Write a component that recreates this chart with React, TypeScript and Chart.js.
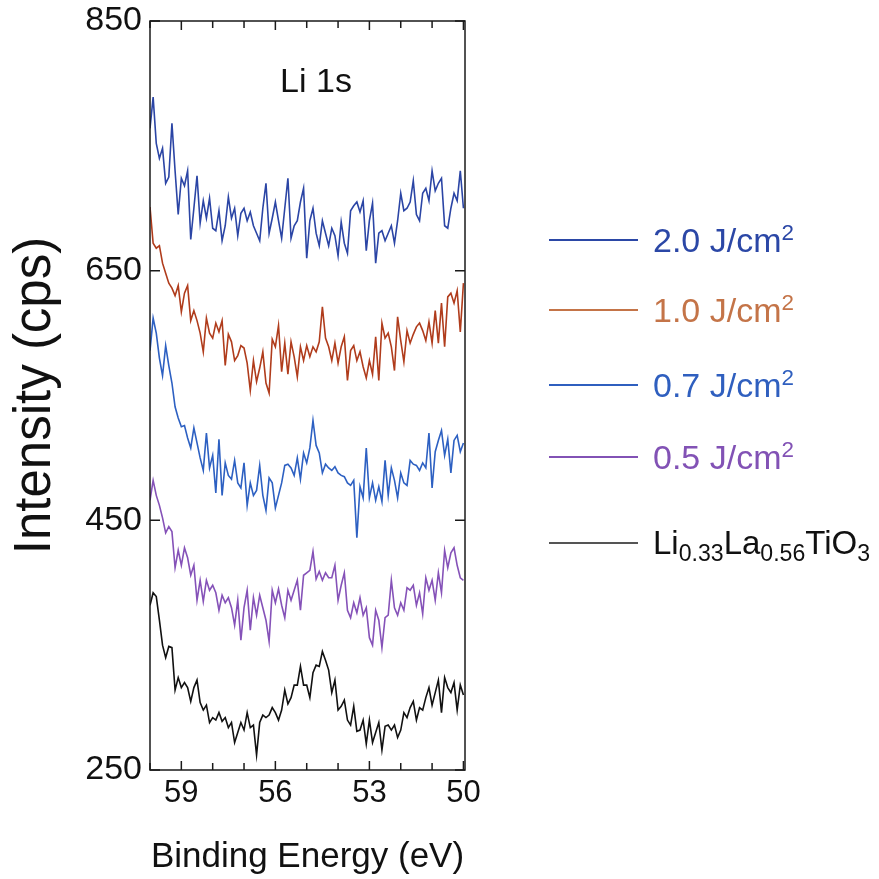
import React, { useEffect, useRef } from "react";
import { Chart, registerables } from "chart.js";

Chart.register(...registerables);

// Binding energy grid (eV)
const energy = [
  60.0, 59.9, 59.8, 59.7, 59.6, 59.5, 59.4, 59.3, 59.2, 59.1,
  59.0, 58.9, 58.8, 58.7, 58.6, 58.5, 58.4, 58.3, 58.2, 58.1,
  58.0, 57.9, 57.8, 57.7, 57.6, 57.5, 57.4, 57.3, 57.2, 57.1,
  57.0, 56.9, 56.8, 56.7, 56.6, 56.5, 56.4, 56.3, 56.2, 56.1,
  56.0, 55.9, 55.8, 55.7, 55.6, 55.5, 55.4, 55.3, 55.2, 55.1,
  55.0, 54.9, 54.8, 54.7, 54.6, 54.5, 54.4, 54.3, 54.2, 54.1,
  54.0, 53.9, 53.8, 53.7, 53.6, 53.5, 53.4, 53.3, 53.2, 53.1,
  53.0, 52.9, 52.8, 52.7, 52.6, 52.5, 52.4, 52.3, 52.2, 52.1,
  52.0, 51.9, 51.8, 51.7, 51.6, 51.5, 51.4, 51.3, 51.2, 51.1,
  51.0, 50.9, 50.8, 50.7, 50.6, 50.5, 50.4, 50.3, 50.2, 50.1,
  50.0,
];

// 2.0 J/cm2
const fluence20 = [
  764, 789, 752, 740, 748, 720, 725, 768, 730, 695,
  724, 718, 730, 675, 700, 726, 688, 706, 692, 708,
  684, 682, 698, 674, 686, 709, 692, 700, 678, 696,
  700, 690, 697, 686, 680, 674, 700, 720, 680, 692,
  705, 690, 676, 700, 724, 676, 686, 690, 705, 716,
  660, 690, 700, 680, 670, 690, 680, 670, 684, 678,
  662, 689, 672, 664, 698, 702, 705, 697, 706, 666,
  690, 704, 656, 680, 682, 674, 680, 686, 672, 690,
  712, 698, 700, 705, 722, 695, 690, 712, 716, 706,
  730, 714, 720, 724, 686, 684, 700, 712, 706, 730,
  700,
];

// 1.0 J/cm2
const fluence10 = [
  701, 672, 668, 670, 656, 648, 640, 636, 630, 638,
  617, 632, 638, 610, 618, 610, 600, 585, 612, 600,
  596, 608, 601, 610, 574, 599, 593, 578, 582, 590,
  588, 576, 554, 578, 561, 572, 585, 560, 552, 595,
  589, 606, 569, 592, 567, 593, 581, 565, 589, 578,
  590, 581, 589, 585, 593, 621, 596, 589, 578, 592,
  576, 589, 597, 562, 586, 590, 578, 585, 573, 564,
  578, 567, 597, 562, 608, 596, 600, 589, 570, 613,
  594, 577, 602, 592, 599, 605, 608, 602, 594, 609,
  592, 618, 592, 624, 589, 629, 632, 624, 634, 601,
  640,
];

// 0.7 J/cm2
const fluence07 = [
  586, 612, 600, 580, 566, 590, 574, 560, 541, 532,
  525, 526, 516, 508, 524, 512, 500, 490, 520, 492,
  502, 472, 515, 470, 496, 486, 483, 498, 480, 476,
  496, 462, 480, 470, 474, 494, 470, 458, 484, 480,
  460, 470, 480, 494, 495, 492, 486, 500, 483, 504,
  496, 508, 530, 510, 504, 488, 495, 492, 490, 493,
  488, 486, 485, 480, 478, 482, 436, 477, 468, 508,
  468, 480, 466, 477, 465, 498, 470, 492, 482, 468,
  488, 480, 478, 498, 495, 494, 490, 496, 492, 520,
  476, 505, 514, 522, 502, 515, 488, 514, 518, 505,
  512,
];

// 0.5 J/cm2
const fluence05 = [
  466, 482, 470, 462, 452, 440, 445, 441, 412, 426,
  414, 428, 420, 406, 414, 386, 402, 385, 402, 394,
  398, 392, 378, 390, 384, 388, 380, 366, 386, 354,
  380, 394, 362, 388, 374, 390, 380, 370, 353, 394,
  384, 395, 382, 372, 394, 386, 394, 402, 378, 406,
  408, 410, 425, 403, 409, 402, 408, 404, 404, 414,
  386, 398, 408, 378, 372, 384, 376, 388, 374, 380,
  356, 350, 378, 370, 348, 372, 374, 402, 380, 374,
  384, 378, 396, 394, 398, 382, 392, 375, 404, 394,
  402, 386, 408, 392, 426, 412, 424, 428, 414, 404,
  402,
];

// Li0.33La0.56TiO3
const llto = [
  382, 392, 389, 370, 350, 340, 349, 348, 314, 324,
  316, 320, 316, 305, 316, 322, 304, 298, 302, 288,
  292, 290, 296, 289, 292, 284, 288, 272, 280, 288,
  282, 296, 284, 286, 262, 288, 294, 292, 294, 300,
  296, 290, 298, 314, 303, 308, 318, 318, 333, 318,
  318, 308, 328, 334, 333, 345, 338, 330, 312, 322,
  298, 301, 306, 290, 286, 301, 281, 282, 290, 271,
  290, 272, 280, 288, 266, 285, 286, 282, 286, 276,
  282, 296, 292, 300, 305, 290, 300, 298, 308, 316,
  302, 312, 322, 296, 324, 316, 312, 320, 298, 318,
  310,
];

const xMajorTicks = [59, 56, 53, 50];
const xMinorTicks = [60, 58, 57, 55, 54, 52, 51];
const yMajorTicks = [250, 450, 650, 850];

const FONT = "'Liberation Sans', Arial, Helvetica, sans-serif";

const framePlugin = {
  id: "frameTicks",
  afterDatasetsDraw(chart: any) {
    const { ctx, chartArea: a, scales } = chart;
    const xs = scales.x;
    const ys = scales.y;
    ctx.save();
    ctx.strokeStyle = "#1a1a1a";
    ctx.lineWidth = 1.5;
    ctx.strokeRect(a.left, a.top, a.right - a.left, a.bottom - a.top);
    const drawX = (v: number, len: number) => {
      const x = xs.getPixelForValue(v);
      ctx.beginPath();
      ctx.moveTo(x, a.bottom);
      ctx.lineTo(x, a.bottom - len);
      ctx.moveTo(x, a.top);
      ctx.lineTo(x, a.top + len);
      ctx.stroke();
    };
    xMajorTicks.forEach((v) => drawX(v, 9));
    xMinorTicks.forEach((v) => drawX(v, 7));
    yMajorTicks.forEach((v) => {
      const y = ys.getPixelForValue(v);
      ctx.beginPath();
      ctx.moveTo(a.left, y);
      ctx.lineTo(a.left + 10, y);
      ctx.moveTo(a.right, y);
      ctx.lineTo(a.right - 10, y);
      ctx.stroke();
    });
    ctx.restore();
  },
};

const legendItems = [
  { label: "2.0 J/cm", sup: "2", line: "#2b47a6", text: "#2b47a6", top: 220 },
  { label: "1.0 J/cm", sup: "2", line: "#c47448", text: "#c47448", top: 290 },
  { label: "0.7 J/cm", sup: "2", line: "#2f5fbf", text: "#2f5fbf", top: 365 },
  { label: "0.5 J/cm", sup: "2", line: "#8252b5", text: "#8252b5", top: 437 },
];

export default function App() {
  const canvasRef = useRef<HTMLCanvasElement | null>(null);

  useEffect(() => {
    if (!canvasRef.current) return;
    const mk = (vals: number[]) => energy.map((e, i) => ({ x: e, y: vals[i] }));
    const chart = new Chart(canvasRef.current, {
      type: "line",
      data: {
        datasets: [
          { label: "2.0 J/cm2", data: mk(fluence20), borderColor: "#2b45a5" },
          { label: "1.0 J/cm2", data: mk(fluence10), borderColor: "#b03c1c" },
          { label: "0.7 J/cm2", data: mk(fluence07), borderColor: "#2d60c2" },
          { label: "0.5 J/cm2", data: mk(fluence05), borderColor: "#8552b8" },
          { label: "Li0.33La0.56TiO3", data: mk(llto), borderColor: "#111111" },
        ],
      },
      options: {
        responsive: false,
        animation: false,
        layout: { padding: { left: 0, top: 21, right: 414, bottom: 0 } },
        plugins: { legend: { display: false }, tooltip: { enabled: false } },
        elements: {
          point: { radius: 0 },
          line: { borderWidth: 1.6, tension: 0, fill: false },
        },
        scales: {
          x: {
            type: "linear",
            reverse: true,
            min: 49.95,
            max: 60,
            afterBuildTicks: (s: any) => {
              s.ticks = xMajorTicks.map((v) => ({ value: v }));
            },
            afterFit: (s: any) => {
              s.height = 109;
            },
            grid: { display: false, drawTicks: false },
            border: { display: false },
            ticks: {
              font: { family: FONT, size: 31 },
              color: "#111",
              padding: 5,
              maxRotation: 0,
              autoSkip: false,
              callback: (v: any) => String(v),
            },
            title: {
              display: true,
              text: "Binding Energy (eV)",
              font: { family: FONT, size: 35 },
              color: "#111",
              padding: { top: 0, bottom: 1 },
            },
          },
          y: {
            type: "linear",
            min: 250,
            max: 850,
            afterBuildTicks: (s: any) => {
              s.ticks = yMajorTicks.map((v) => ({ value: v }));
            },
            afterFit: (s: any) => {
              s.width = 150;
            },
            grid: { display: false, drawTicks: false },
            border: { display: false },
            ticks: {
              font: { family: FONT, size: 34, lineHeight: 0.5 },
              color: "#111",
              padding: 8,
              autoSkip: false,
              callback: (v: any) => String(v),
            },
            title: {
              display: true,
              text: "Intensity (cps)",
              font: { family: FONT, size: 51 },
              color: "#111",
              padding: { top: 5, bottom: 0 },
            },
          },
        },
      },
      plugins: [framePlugin],
    } as any);
    return () => chart.destroy();
  }, []);

  const rowStyle = (top: number): React.CSSProperties => ({
    position: "absolute",
    left: 549,
    top,
    height: 40,
    display: "flex",
    alignItems: "center",
    whiteSpace: "nowrap",
  });

  return (
    <div
      style={{
        position: "fixed",
        left: 0,
        top: 0,
        width: 879,
        height: 879,
        background: "#ffffff",
        fontFamily: FONT,
      }}
    >
      <canvas ref={canvasRef} width={879} height={879} style={{ position: "absolute", left: 0, top: 0 }} />
      <div
        style={{
          position: "absolute",
          left: 256,
          width: 120,
          top: 62,
          textAlign: "center",
          fontSize: 34,
          lineHeight: "36px",
          color: "#111",
        }}
      >
        Li 1s
      </div>
      {legendItems.map((it) => (
        <div key={it.label} style={rowStyle(it.top)}>
          <div style={{ width: 89, height: 0, borderTop: `2px solid ${it.line}` }} />
          <span style={{ marginLeft: 15, fontSize: 34, lineHeight: "40px", color: it.text }}>
            {it.label}
            <span style={{ fontSize: "0.66em", verticalAlign: "0.55em", lineHeight: 0 }}>{it.sup}</span>
          </span>
        </div>
      ))}
      <div style={rowStyle(523)}>
        <div style={{ width: 89, height: 0, borderTop: "2px solid #555555" }} />
        <span style={{ marginLeft: 15, fontSize: 33, lineHeight: "40px", color: "#111" }}>
          Li<span style={{ fontSize: "0.7em", verticalAlign: "-0.32em", lineHeight: 0 }}>0.33</span>
          La<span style={{ fontSize: "0.7em", verticalAlign: "-0.32em", lineHeight: 0 }}>0.56</span>
          TiO<span style={{ fontSize: "0.7em", verticalAlign: "-0.32em", lineHeight: 0 }}>3</span>
        </span>
      </div>
    </div>
  );
}
